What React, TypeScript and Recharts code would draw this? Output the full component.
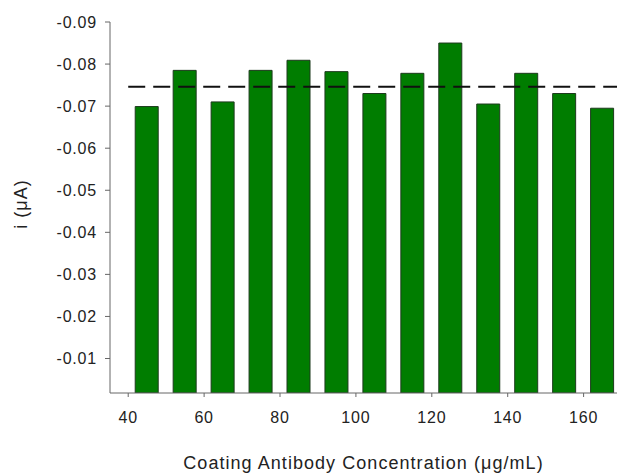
import { BarChart, Bar, XAxis, YAxis, ReferenceLine, Label } from 'recharts';

// coating antibody concentration (µg/mL) and measured current (µA)
const concentrations = [45, 55, 65, 75, 85, 95, 105, 115, 125, 135, 145, 155, 165];
const currents = [-0.0699, -0.0785, -0.071, -0.0785, -0.0809, -0.0782, -0.073, -0.0778, -0.085, -0.0705, -0.0778, -0.073, -0.0695];
const meanCurrent = -0.0746;
const xTicks = [40, 60, 80, 100, 120, 140, 160];
const yTicks = [-0.09, -0.08, -0.07, -0.06, -0.05, -0.04, -0.03, -0.02, -0.01];

const data = concentrations.map((c, i) => ({ conc: c, current: currents[i] }));

const AXIS = '#666666';
const TEXT = '#222222';
const FONT = '"Liberation Sans", Arial, sans-serif';

export default function App() {
  return (
    <div style={{ position: 'absolute', left: 0, top: 0, background: '#fff' }}>
      <BarChart
        width={617}
        height={474}
        data={data}
        margin={{ top: 22, right: 0, bottom: 0, left: 0 }}
      >
        <XAxis
          dataKey="conc"
          type="number"
          domain={[35.2, 168.8]}
          allowDataOverflow
          ticks={xTicks}
          height={81}
          stroke={AXIS}
          tickSize={4}
          tickMargin={15}
          tick={{ fill: TEXT, fontFamily: FONT, fontSize: 16, letterSpacing: 0.8 }}
        >
          <Label
            content={({ viewBox }: any) => (
              <text
                x={viewBox.x + viewBox.width / 2}
                y={469}
                textAnchor="middle"
                fill={TEXT}
                fontFamily={FONT}
                fontSize={18}
                letterSpacing={1.05}
              >
                Coating Antibody Concentration (μg/mL)
              </text>
            )}
          />
        </XAxis>
        <YAxis
          type="number"
          domain={[-0.09, -0.0018]}
          allowDataOverflow
          reversed
          ticks={yTicks}
          tickFormatter={v => (v as number).toFixed(2)}
          width={110}
          stroke={AXIS}
          tickSize={5}
          tickMargin={8}
          tick={{ fill: TEXT, fontFamily: FONT, fontSize: 16, letterSpacing: 0.8 }}
        >
          <Label
            content={() => (
              <text
                x={21}
                y={204}
                transform="rotate(-90 21 204)"
                textAnchor="middle"
                dominantBaseline="central"
                fill={TEXT}
                fontFamily={FONT}
                fontSize={18}
                letterSpacing={1.05}
              >
                i (μA)
              </text>
            )}
          />
        </YAxis>
        <Bar
          dataKey="current"
          fill="#007d00"
          stroke="#1d3a1d"
          strokeWidth={1}
          barSize={23}
          isAnimationActive={false}
        />
        <ReferenceLine
          segment={[{ x: 40, y: meanCurrent }, { x: 168.8, y: meanCurrent }]}
          stroke="#111111"
          strokeWidth={2}
          strokeDasharray="17 8"
        />
      </BarChart>
    </div>
  );
}
